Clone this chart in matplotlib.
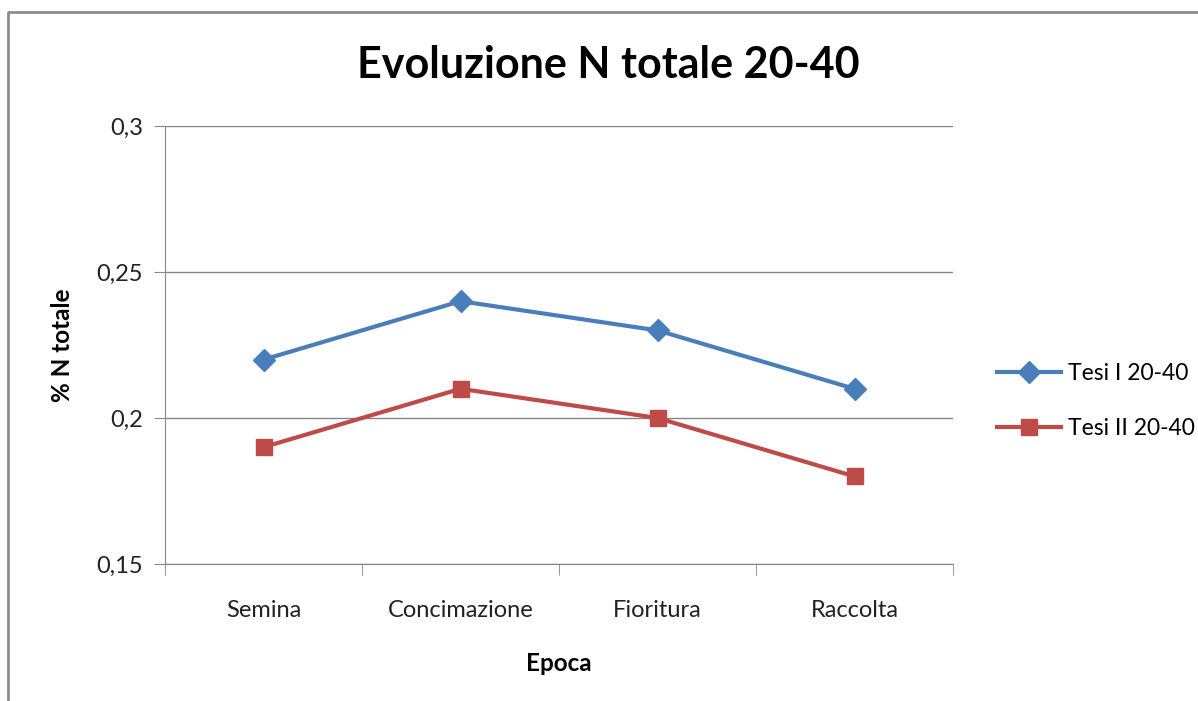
import matplotlib.pyplot as plt
from matplotlib.lines import Line2D

# dati
epoche = ["Semina", "Concimazione", "Fioritura", "Raccolta"]
tesi_1 = [0.22, 0.24, 0.23, 0.21]
tesi_2 = [0.19, 0.21, 0.20, 0.18]
y_ticks = [0.15, 0.2, 0.25, 0.3]
y_labels = ["0,15", "0,2", "0,25", "0,3"]

plt.rcParams['font.family'] = ['Lato', 'DejaVu Sans']

blu = '#4A7EBB'
rosso = '#BE4B48'
grigio = '#868686'

fig = plt.figure(figsize=(11.98, 7.01), dpi=100)
ax = fig.add_axes([165 / 1198, 1 - 564 / 701, (953 - 165) / 1198, (564 - 126) / 701])

x = list(range(len(epoche)))
ax.plot(x, tesi_1, color=blu, lw=3, marker='D', ms=11, label='Tesi I 20-40')
ax.plot(x, tesi_2, color=rosso, lw=3, marker='s', ms=12, label='Tesi II 20-40')

ax.set_xlim(-0.5, 3.5)
ax.set_ylim(0.15, 0.3)
ax.set_yticks(y_ticks)
ax.set_yticklabels(y_labels, fontsize=17, color='#222222')
ax.set_xticks(x)
ax.set_xticklabels(epoche, fontsize=17, color='#222222')
# tacche tra le categorie
ax.set_xticks([-0.5, 0.5, 1.5, 2.5, 3.5], minor=True)
ax.tick_params(axis='x', which='major', length=0, pad=26)
ax.tick_params(axis='x', which='minor', length=8, color=grigio)
ax.tick_params(axis='y', length=8, color=grigio, pad=8)

ax.grid(axis='y', color=grigio, lw=1)
ax.set_axisbelow(True)
for s in ['top', 'right']:
    ax.spines[s].set_visible(False)
for s in ['left', 'bottom']:
    ax.spines[s].set_color(grigio)

ax.set_xlabel('Epoca', fontsize=17.5, fontweight='bold', labelpad=22)
ax.set_ylabel('% N totale', fontsize=17.5, fontweight='bold', labelpad=16)

fig.text(608 / 1198, 1 - 65 / 701, 'Evoluzione N totale 20-40', fontsize=31,
         fontweight='bold', ha='center', va='center')

ax.legend(loc='center left', bbox_to_anchor=(1.03, 0.372), frameon=False,
          fontsize=16.5, handlelength=2.8, labelspacing=1.45, handletextpad=0.3)

# cornice del grafico
fig.add_artist(Line2D([8 / 1198, 8 / 1198, 1.0], [0.0, 1 - 12 / 701, 1 - 12 / 701],
                      transform=fig.transFigure, color='#8c8c8c', lw=2))

fig.savefig('out.png', dpi=100)
